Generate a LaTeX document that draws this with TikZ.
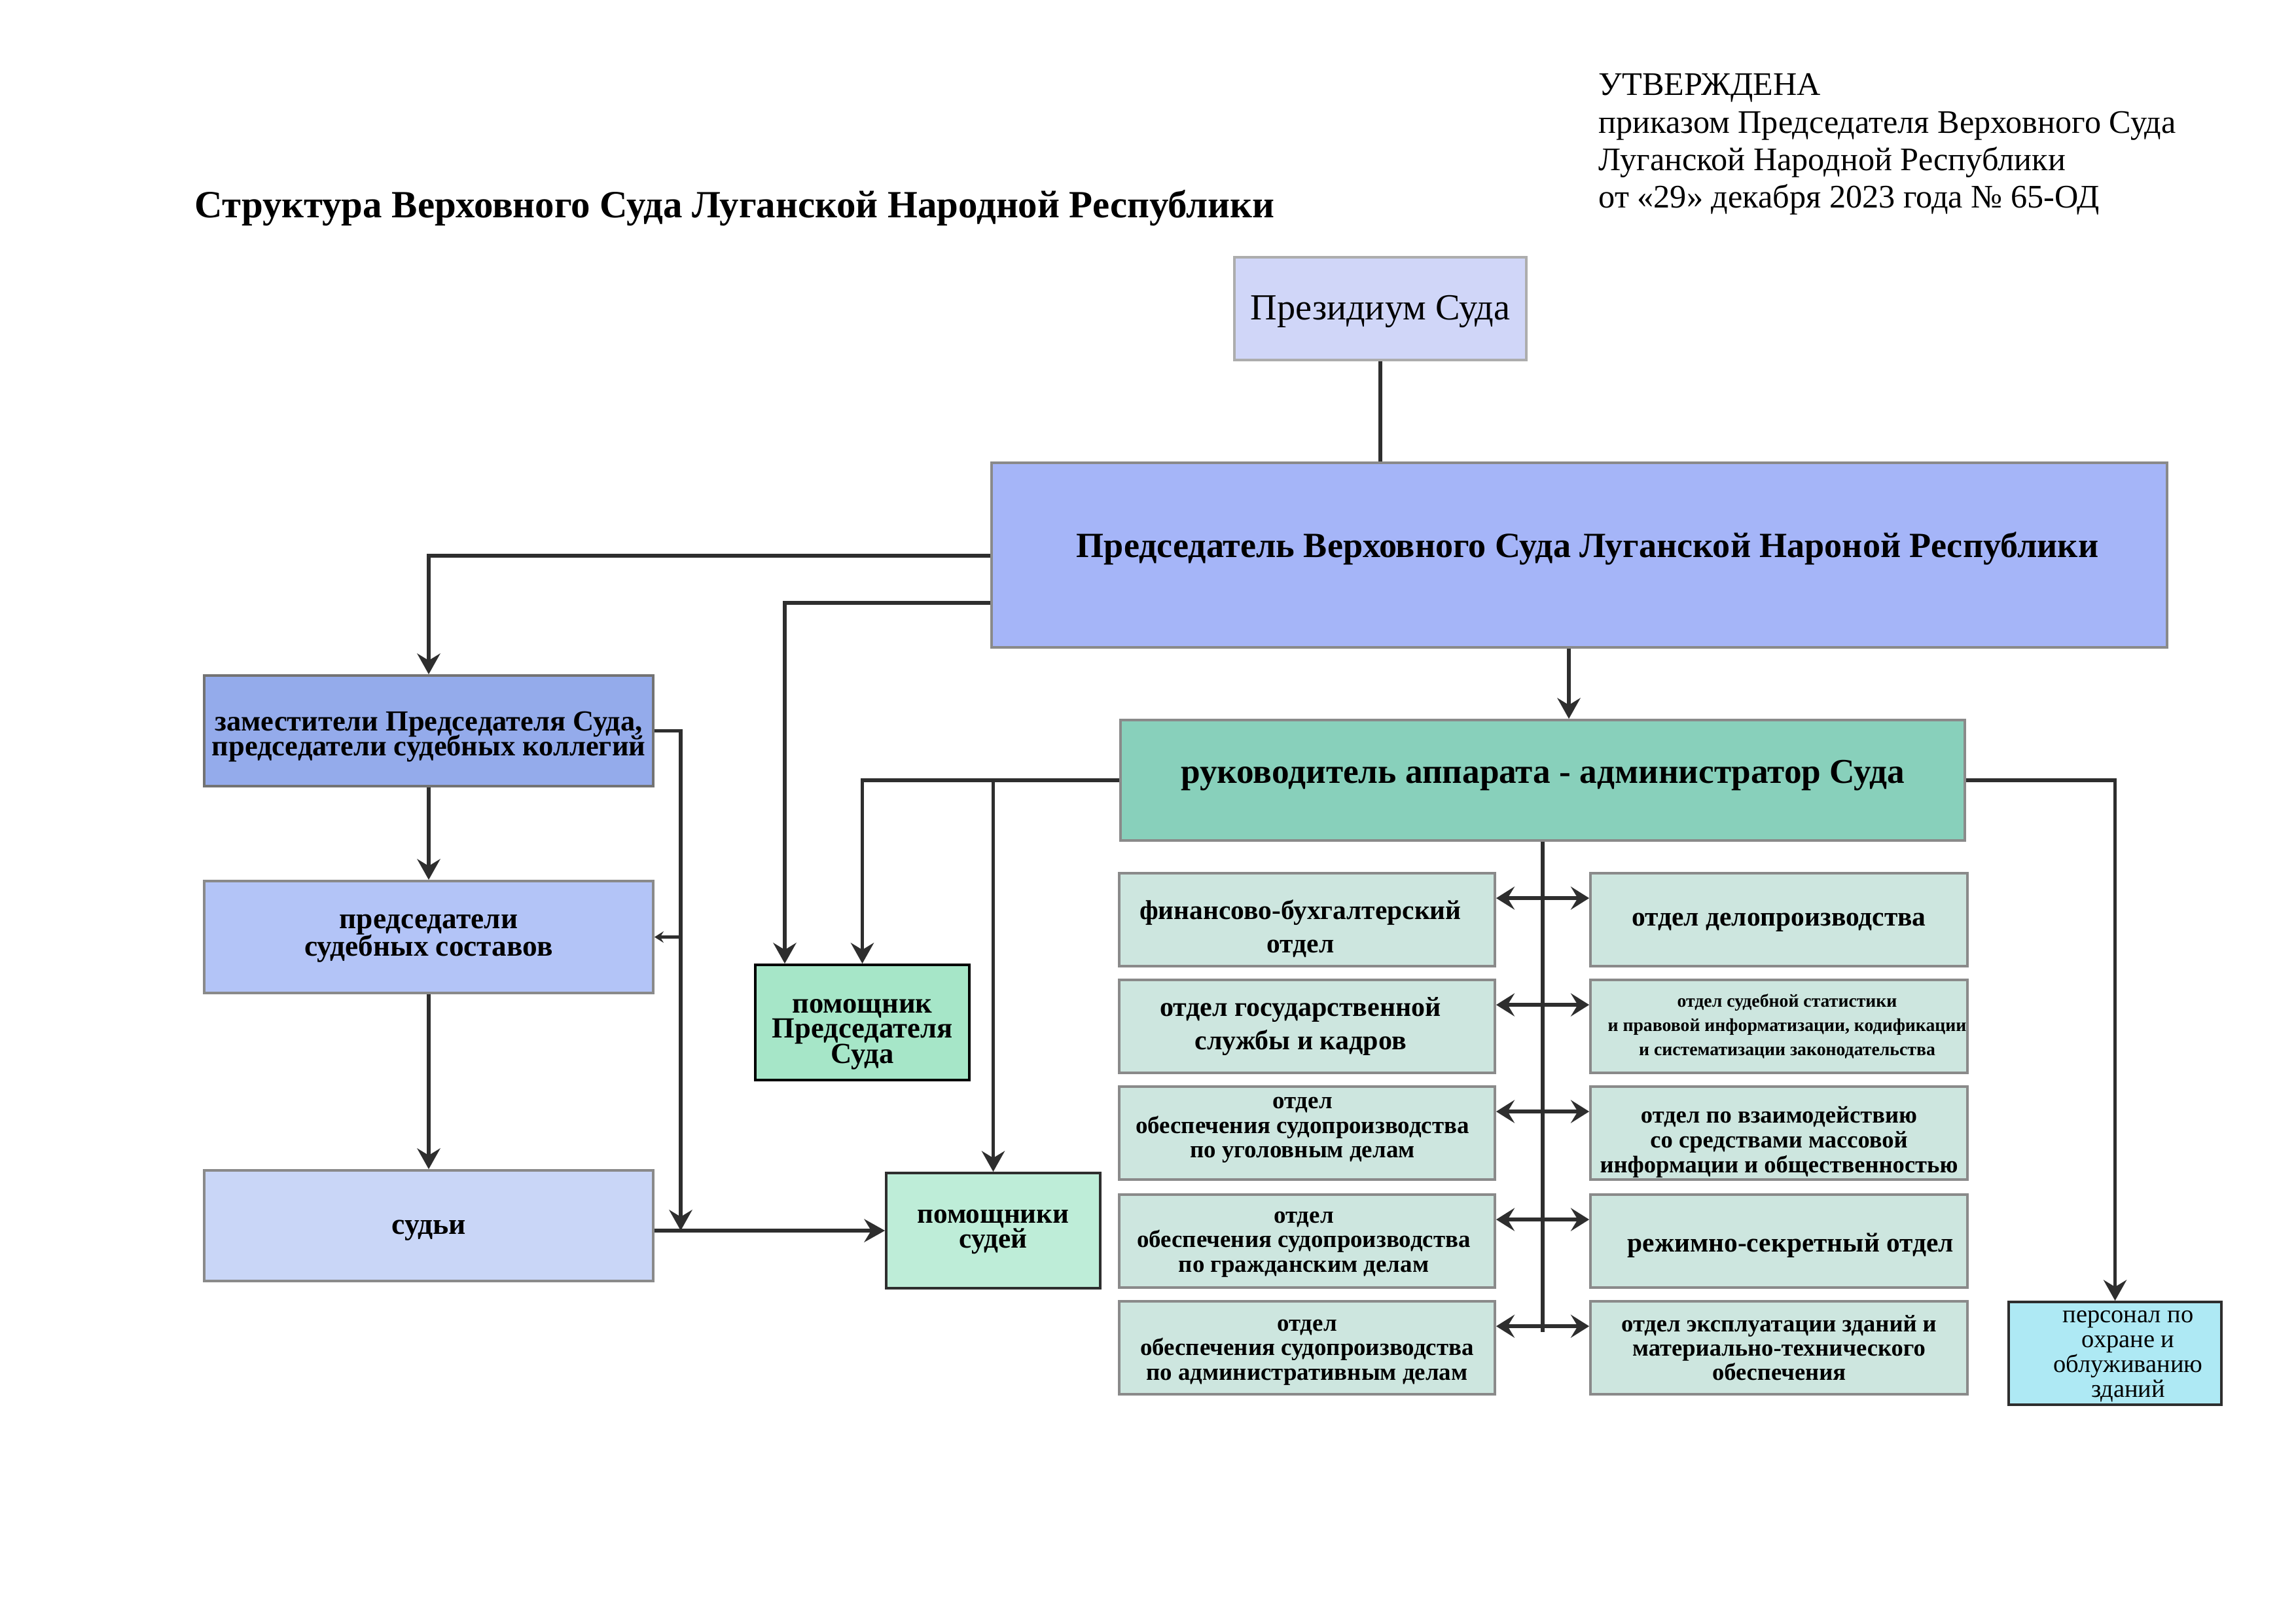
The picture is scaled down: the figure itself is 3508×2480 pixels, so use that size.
\documentclass[tikz,border=0pt]{standalone}
\usepackage{fontspec}
\setmainfont{Liberation Serif}
\usetikzlibrary{arrows.meta}
\definecolor{cPres}{HTML}{D0D6F8}
\definecolor{cChair}{HTML}{A5B5F8}
\definecolor{cZam}{HTML}{94ABEB}
\definecolor{cSost}{HTML}{B3C4F7}
\definecolor{cSudi}{HTML}{C9D6F7}
\definecolor{cPomPred}{HTML}{A6E6C8}
\definecolor{cPomSud}{HTML}{BEEDD8}
\definecolor{cRuk}{HTML}{88D0BB}
\definecolor{cDept}{HTML}{CDE6DF}
\definecolor{cPers}{HTML}{AEE9F4}
\definecolor{cLine}{HTML}{2E2E2E}
\definecolor{cBord}{HTML}{8A8A8A}
\newcommand\fsz[2]{\fontsize{#1}{#2}\selectfont\lineskiplimit=-30pt\relax}
\begin{document}
\begin{tikzpicture}[x=0.1mm,y=-0.1mm,
  box/.style={draw=cBord, line width=1.1pt, inner sep=0pt},
  sz/.style 2 args={minimum width=#1mm, minimum height=#2mm},
  txt/.style={inner sep=0pt, align=center},
  dept/.style={box, fill=cDept, sz={57.4}{14.2}},
  deptr/.style={box, fill=cDept, sz={57.6}{14.2}},
  arr/.style={draw=cLine, line width=1.6pt, -{Stealth[length=9pt,width=10pt,inset=3pt]}},
  darr/.style={draw=cLine, line width=1.6pt, {Stealth[length=8pt,width=10pt,inset=3pt]}-{Stealth[length=8pt,width=10pt,inset=3pt]}},
  sarr/.style={draw=cLine, line width=1.6pt, -{Stealth[length=4pt,width=5pt,inset=1.5pt]}},
  ln/.style={draw=cLine, line width=1.6pt}]
\useasboundingbox (0,0) rectangle (3508,2480);
\fill[white] (0,0) rectangle (3508,2480);

% heading texts
\node[anchor=base west, inner sep=0pt, font=\bfseries\fsz{16.75}{19}] (title) at (297,332)
  {Структура Верховного Суда Луганской Народной Республики};
\node[anchor=north west, inner sep=0pt, align=left, font=\fsz{14.3}{16.3}] (appr) at (2442,112)
  {УТВЕРЖДЕНА\\приказом Председателя Верховного Суда\\Луганской Народной Республики\\от «29» декабря 2023 года № 65-ОД};

% main boxes
\node[box, draw=cBord!70, fill=cPres, sz={44.6}{15.7}] (pres) at (2109,471.5) {};
\node[box, fill=cChair, sz={179.6}{28.2}] (chair) at (2413,848) {};
\node[box, draw=cBord!120, fill=cZam, sz={68.6}{16.9}] (zam) at (655,1116.5) {};
\node[box, fill=cSost, sz={68.6}{17.1}] (sost) at (655,1431.5) {};
\node[box, fill=cSudi, sz={68.6}{16.9}] (sudi) at (655,1872.5) {};
\node[box, draw=black, fill=cPomPred, sz={32.7}{17.6}] (pompred) at (1317.5,1562) {};
\node[box, draw=cLine, fill=cPomSud, sz={32.7}{17.6}] (pomsud) at (1517.5,1880) {};
\node[box, fill=cRuk, sz={129}{18.4}] (ruk) at (2357,1192) {};
\node[box, draw=cLine, fill=cPers, sz={32.5}{15.7}] (pers) at (3231.5,2067.5) {};

\node[txt, font=\fsz{16}{19}] (presT) at ([yshift=-0.45mm]pres.center) {Президиум Суда};
\node[txt, text height=4mm, text depth=4.7mm, font=\bfseries\fsz{15.4}{18}] (chairT) at ([yshift=-0.7mm]chair.center)
  {\hspace*{2.5mm}Председатель Верховного Суда Луганской Нароной Республики};
\node[txt, font=\bfseries\fsz{12.65}{10.8}] (zamT) at ([yshift=-0.9mm]zam.center)
  {заместители Председателя Суда,\\председатели судебных коллегий};
\node[txt, font=\bfseries\fsz{12.9}{11.8}] (sostT) at ([yshift=-0.2mm]sost.center)
  {председатели\\судебных составов};
\node[txt, font=\bfseries\fsz{13}{14}] (sudiT) at ([yshift=-0.7mm]sudi.center) {судьи};
\node[txt, font=\bfseries\fsz{12.7}{10.9}] (pompredT) at ([yshift=-1.8mm]pompred.center)
  {помощник\\Председателя\\Суда};
\node[txt, font=\bfseries\fsz{12.3}{10.9}] (pomsudT) at ([yshift=-0.2mm]pomsud.center)
  {помощники\\судей};
\node[txt, text height=4mm, text depth=4mm, font=\bfseries\fsz{15.15}{17}] (rukT) at ([yshift=-0.45mm]ruk.center)
  {руководитель аппарата - администратор Суда};
\node[txt, font=\fsz{10.95}{10.8}] (persT) at ([yshift=-0.45mm]pers.center)
  {\hspace*{4mm}персонал по\\\hspace*{4mm}охране и\\\hspace*{4mm}облуживанию\\\hspace*{4mm}зданий};

% departments
\node[dept] (L1) at (1997,1405) {};
\node[dept] (L2) at (1997,1568) {};
\node[dept] (L3) at (1997,1731) {};
\node[dept] (L4) at (1997,1896) {};
\node[dept] (L5) at (1997,2059) {};
\node[deptr] (R1) at (2718,1405) {};
\node[deptr] (R2) at (2718,1568) {};
\node[deptr] (R3) at (2718,1731) {};
\node[deptr] (R4) at (2718,1896) {};
\node[deptr] (R5) at (2718,2059) {};

\node[txt, font=\bfseries\fsz{11.8}{14.5}] (L1T) at ([xshift=-1mm,yshift=-1.35mm]L1.center) {финансово-бухгалтерский\\отдел};
\node[txt, font=\bfseries\fsz{11.95}{14.3}] (L2T) at ([xshift=-1mm]L2.center) {отдел государственной\\службы и кадров};
\node[txt, font=\bfseries\fsz{10.5}{10.7}] (L3T) at ([xshift=-0.7mm,yshift=0.45mm]L3.center) {отдел\\обеспечения судопроизводства\\по уголовным делам};
\node[txt, font=\bfseries\fsz{10.5}{10.7}] (L4T) at ([xshift=-0.5mm,yshift=-0.5mm]L4.center) {отдел\\обеспечения судопроизводства\\по гражданским делам};
\node[txt, font=\bfseries\fsz{10.5}{10.7}] (L5T) at ([yshift=-0.7mm]L5.center) {отдел\\обеспечения судопроизводства\\по административным делам};
\node[txt, font=\bfseries\fsz{11.8}{13}] (R1T) at ([yshift=-0.45mm]R1.center) {отдел делопроизводства};
\node[txt, font=\bfseries\fsz{7.9}{10.5}] (R2T) at (R2.center) {\hspace*{2.5mm}отдел судебной статистики\\\hspace*{2.5mm}и правовой информатизации, кодификации\\\hspace*{2.5mm}и систематизации законодательства};
\node[txt, font=\bfseries\fsz{10.4}{10.8}] (R3T) at ([yshift=-1.35mm]R3.center) {отдел по взаимодействию\\со средствами массовой\\информации и общественностью};
\node[txt, font=\bfseries\fsz{11.8}{13}] (R4T) at ([xshift=1.8mm,yshift=-0.7mm]R4.center) {режимно-секретный отдел};
\node[txt, font=\bfseries\fsz{10.4}{10.6}] (R5T) at (R5.center) {отдел эксплуатации зданий и\\материально-технического\\обеспечения};

% helper coordinates
\coordinate (yA) at (0,849);
\coordinate (yB) at (0,921);
\coordinate (xB) at (1199,0);
\coordinate (xC) at (1040,0);
\coordinate (xD) at (2397,0);
\coordinate (ySpine) at (0,2035);

% connectors
\draw[ln] (pres.south) -- (pres.south |- chair.north);
\draw[arr] (chair.west |- yA) -| (zam.north);
\draw[arr] (chair.west |- yB) -| (pompred.north -| xB);
\draw[arr] (chair.south -| xD) -- (ruk.north -| xD);
\draw[arr] (ruk.west) -| (pompred.north);
\draw[arr] (ruk.west -| pomsud.north) -- (pomsud.north);
\draw[arr] (ruk.east) -| (pers.north);
\draw[arr] (zam.south) -- (sost.north);
\draw[arr] (sost.south) -- (sudi.north);
\draw[arr] (zam.east) -| (xC |- pomsud.west);
\draw[sarr] (xC |- sost.east) -- (sost.east);
\draw[arr] (sudi.east |- pomsud.west) -- (pomsud.west);
\draw[ln] (ruk.south) -- (ruk.south |- ySpine);
\foreach \i in {1,...,5}{
  \coordinate (a\i) at ([yshift=-4mm]L\i.north east);
  \draw[darr] (a\i) -- (a\i -| R\i.west);
}
\end{tikzpicture}
\end{document}
